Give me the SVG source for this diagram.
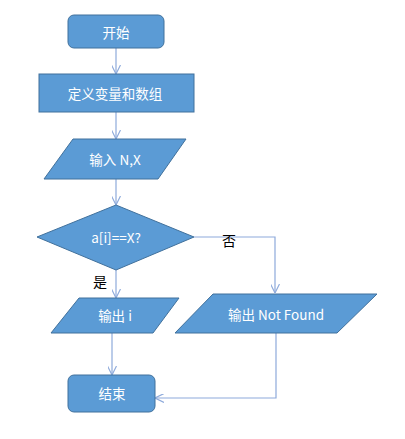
<svg xmlns="http://www.w3.org/2000/svg" width="405" height="439" viewBox="0 0 405 439">
<style>
.box{fill:#5b9bd5;stroke:#41719c;stroke-width:1}
.t{fill:#ffffff;font-family:"Noto Sans CJK SC","Liberation Sans",sans-serif;font-size:13.5px;text-anchor:middle;dominant-baseline:central}
.lbl{fill:#000000;font-family:"Noto Sans CJK SC","Liberation Sans",sans-serif;font-size:14px;text-anchor:middle;dominant-baseline:central}
.c{fill:none;stroke:#8eaadb;stroke-width:1.2}
</style>
<defs>
<marker id="arr" viewBox="0 0 10 10" refX="10" refY="5" markerWidth="9" markerHeight="9" markerUnits="userSpaceOnUse" orient="auto">
<path d="M0,0 L10,5 L0,10" fill="none" stroke="#8eaadb" stroke-width="1.3"/>
</marker>
</defs>
<rect width="405" height="439" fill="#ffffff"/>
<g id="connectors">
<path class="c" d="M116,48 V74" marker-end="url(#arr)"/>
<path class="c" d="M116,112 V139" marker-end="url(#arr)"/>
<path class="c" d="M116,179 V205" marker-end="url(#arr)"/>
<path class="c" d="M116,270 V298" marker-end="url(#arr)"/>
<path class="c" d="M194,237 H275 V293" marker-end="url(#arr)"/>
<path class="c" d="M112,333 V375" marker-end="url(#arr)"/>
<path class="c" d="M276,333 V398 H155" marker-end="url(#arr)"/>
<text class="lbl" x="100" y="281">是</text>
<text class="lbl" x="229" y="240">否</text>
</g>
<g id="start">
<rect class="box" x="68" y="15" width="96" height="33" rx="6"/>
<text class="t" x="116" y="32">开始</text>
</g>
<g id="define">
<rect class="box" x="39" y="74" width="155" height="38"/>
<text class="t" x="115" y="93">定义变量和数组</text>
</g>
<g id="input">
<polygon class="box" points="73,139 186,139 158,179 44,179"/>
<text class="t" x="115" y="159">输入 N,X</text>
</g>
<g id="decision">
<polygon class="box" points="116,205 194,237 116,270 37,237"/>
<text class="t" x="116" y="237">a[i]==X?</text>
</g>
<g id="output-i">
<polygon class="box" points="79,298 179,298 153,333 51,333"/>
<text class="t" x="115" y="315">输出 i</text>
</g>
<g id="output-notfound">
<polygon class="box" points="213,294 377,294 337,333 175,333"/>
<text class="t" x="276" y="314">输出 Not Found</text>
</g>
<g id="end">
<rect class="box" x="68" y="375" width="87" height="37" rx="6"/>
<text class="t" x="112" y="393">结束</text>
</g>
</svg>
